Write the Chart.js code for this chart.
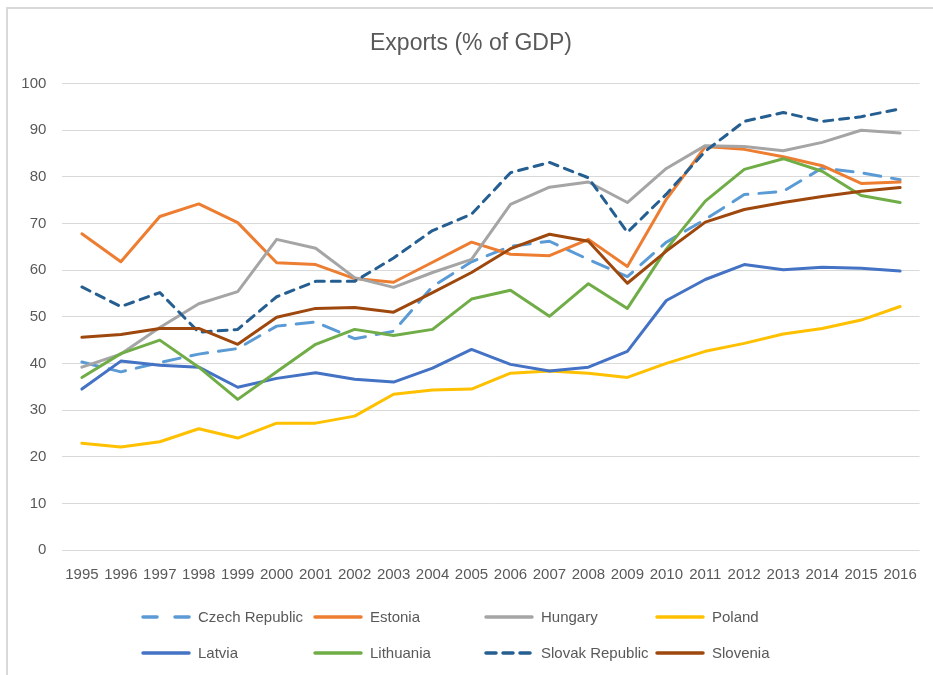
<!DOCTYPE html>
<html>
<head>
<meta charset="utf-8">
<script src="https://cdn.jsdelivr.net/npm/chart.js@4.4.0/dist/chart.umd.min.js"></script>
<style>
  body { margin: 0; background: #fff; }
  #wrap { width: 933px; height: 675px; }
</style>
</head>
<body>
<div id="wrap"><canvas id="myChart" width="933" height="675"></canvas></div>
<script>
// data
let years = ['1995', '1996', '1997', '1998', '1999', '2000', '2001', '2002', '2003', '2004', '2005',
    '2006', '2007', '2008', '2009', '2010', '2011', '2012', '2013', '2014', '2015', '2016'];

let czech = [40.3, 38.2, 40.2, 42.0, 43.2, 48.0, 48.9, 45.3, 46.9, 56.5, 61.8, 65.1, 66.2, 62.3, 58.6, 66.0, 70.9, 76.2, 76.9, 81.9, 80.9, 79.4];
let estonia = [67.8, 61.8, 71.5, 74.2, 70.2, 61.6, 61.2, 58.2, 57.4, 61.7, 66.0, 63.4, 63.1, 66.6, 60.8, 75.2, 86.5, 85.9, 84.3, 82.4, 78.6, 78.9];
let hungary = [39.2, 42.0, 47.7, 52.8, 55.4, 66.6, 64.7, 58.4, 56.3, 59.5, 62.3, 74.1, 77.8, 78.9, 74.5, 81.8, 86.7, 86.5, 85.6, 87.4, 90.0, 89.4];
let poland = [22.9, 22.1, 23.2, 26.0, 24.0, 27.2, 27.2, 28.7, 33.4, 34.3, 34.5, 37.9, 38.4, 37.9, 37.0, 40.0, 42.6, 44.3, 46.3, 47.5, 49.3, 52.2];
let latvia = [34.5, 40.5, 39.6, 39.2, 34.9, 36.8, 38.0, 36.6, 36.0, 39.0, 43.0, 39.8, 38.4, 39.2, 42.6, 53.5, 58.0, 61.2, 60.1, 60.6, 60.4, 59.8];
let lithuania = [37.0, 42.1, 45.0, 39.2, 32.3, 38.2, 44.1, 47.3, 46.0, 47.3, 53.8, 55.7, 50.1, 57.1, 51.8, 64.5, 74.8, 81.6, 83.9, 81.2, 76.0, 74.5];
let slovak = [56.4, 52.2, 55.2, 46.7, 47.3, 54.3, 57.6, 57.6, 62.6, 68.5, 72.0, 80.9, 83.1, 79.8, 68.1, 76.3, 85.5, 91.9, 93.8, 91.9, 92.9, 94.6];
let slovenia = [45.6, 46.2, 47.5, 47.5, 44.1, 49.9, 51.8, 52.0, 51.0, 55.2, 59.5, 64.6, 67.7, 66.2, 57.2, 64.1, 70.3, 73.0, 74.5, 75.8, 76.9, 77.7];

let textColor = '#595959';
let font = 'Liberation Sans, Arial, sans-serif';

function series(label, data, color, dash, legendDash) {
    return {
        label: label,
        data: data,
        borderColor: color,
        backgroundColor: color,
        borderWidth: 3,
        borderDash: dash || [],
        legendDash: legendDash || dash || [],
        borderCapStyle: 'round',
        borderJoinStyle: 'round',
        pointRadius: 0,
        tension: 0
    };
}

let datasets = [
    series('Czech Republic', czech, '#5B9BD5', [17, 11], [14, 18]),
    series('Estonia', estonia, '#ED7D31'),
    series('Hungary', hungary, '#A5A5A5'),
    series('Poland', poland, '#FFC000'),
    series('Latvia', latvia, '#4472C4'),
    series('Lithuania', lithuania, '#70AD47'),
    series('Slovak Republic', slovak, '#255E91', [9, 7], [10, 7]),
    series('Slovenia', slovenia, '#9E480E')
];
// later series on top, like the original
datasets.forEach(function(d, i) { d.order = datasets.length - i; });

// frame + grid legend, drawn by hand
let framePlugin = {
    id: 'frame',
    beforeDraw: function(chart) {
        let ctx = chart.ctx;
        ctx.save();
        ctx.strokeStyle = '#D9D9D9';
        ctx.lineWidth = 2;
        ctx.beginPath();
        ctx.moveTo(7, 675);
        ctx.lineTo(7, 8);
        ctx.lineTo(933, 8);
        ctx.stroke();
        ctx.restore();
    }
};

let gridLegend = {
    id: 'gridLegend',
    afterDraw: function(chart) {
        let ctx = chart.ctx;
        let cols = [141, 313, 484, 655];
        let rows = [617, 653];
        ctx.save();
        chart.data.datasets.forEach(function(d, i) {
            let x = cols[i % 4];
            let y = rows[Math.floor(i / 4)];
            ctx.strokeStyle = d.borderColor;
            ctx.lineWidth = 3.5;
            ctx.lineCap = 'round';
            ctx.setLineDash(d.legendDash);
            ctx.beginPath();
            ctx.moveTo(x + 2, y);
            ctx.lineTo(x + 48, y);
            ctx.stroke();
            ctx.setLineDash([]);
            ctx.fillStyle = textColor;
            ctx.font = '15px ' + font;
            ctx.textBaseline = 'middle';
            ctx.textAlign = 'left';
            ctx.fillText(d.label, x + 57, y + 1);
        });
        ctx.restore();
    }
};

let myChart = new Chart(document.getElementById('myChart'), {
    type: 'line',
    data: {
        labels: years,
        datasets: datasets
    },
    options: {
        responsive: false,
        animation: false,
        layout: {
            padding: { left: 18, right: 9, top: 0, bottom: 91 }
        },
        plugins: {
            legend: { display: false },
            tooltip: { enabled: false },
            title: {
                display: true,
                text: 'Exports (% of GDP)',
                color: textColor,
                font: { family: font, size: 23, weight: 'normal' },
                padding: { top: 30, bottom: 26 }
            }
        },
        scales: {
            x: {
                offset: true,
                grid: { display: false, drawTicks: false },
                border: { display: false },
                ticks: {
                    color: textColor,
                    font: { family: font, size: 15 },
                    padding: 16,
                    maxRotation: 0,
                    autoSkip: false
                },
                afterFit: function(scale) { scale.height = 34; }
            },
            y: {
                min: 0,
                max: 100,
                grid: { color: '#D9D9D9', lineWidth: 1, drawTicks: false },
                border: { display: false },
                ticks: {
                    stepSize: 10,
                    color: textColor,
                    font: { family: font, size: 15 },
                    padding: 16
                },
                afterFit: function(scale) { scale.width = 44.4; }
            }
        }
    },
    plugins: [framePlugin, gridLegend]
});
</script>
</body>
</html>
